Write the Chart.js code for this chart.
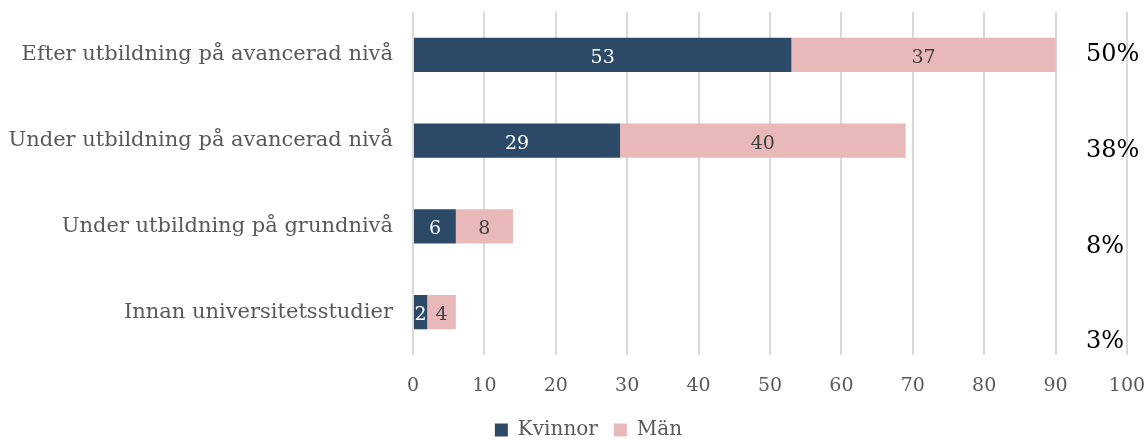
<!DOCTYPE html>
<html>
<head>
<meta charset="utf-8">
<script src="https://cdn.jsdelivr.net/npm/chart.js@4"></script>
<style>
  html, body { margin: 0; padding: 0; background: #fff; }
  #wrap { width: 1148px; height: 440px; }
</style>
</head>
<body>
<div id="wrap"><canvas id="chart"></canvas></div>
<script>
const categories = [
  'Efter utbildning på avancerad nivå',
  'Under utbildning på avancerad nivå',
  'Under utbildning på grundnivå',
  'Innan universitetsstudier'
]
const kvinnor = [53, 29, 6, 2]
const man = [37, 40, 8, 4]
const shares = ['50%', '38%', '8%', '3%']

const FONT = "'DejaVu Serif', 'Liberation Serif', serif"
const GREY = '#595959'

// numbers inside the bars
const barLabels = {
  id: 'barLabels',
  afterDatasetsDraw(chart) {
    const ctx = chart.ctx
    ctx.save()
    ctx.font = '19px ' + FONT
    ctx.textAlign = 'center'
    ctx.textBaseline = 'middle'
    chart.data.datasets.forEach((ds, di) => {
      chart.getDatasetMeta(di).data.forEach((bar, i) => {
        const cx = (bar.x + bar.base) / 2
        ctx.fillStyle = di === 0 ? '#ffffff' : '#404040'
        ctx.fillText(ds.data[i], cx, bar.y + 3)
      })
    })
    ctx.restore()
  }
}

// percentage column on the right
const shareLabels = {
  id: 'shareLabels',
  afterDraw(chart) {
    const ctx = chart.ctx
    const y = chart.scales.y
    ctx.save()
    ctx.font = '24px ' + FONT
    ctx.fillStyle = '#000000'
    ctx.textAlign = 'left'
    ctx.textBaseline = 'middle'
    shares.forEach((s, i) => {
      ctx.fillText(s, 1086, y.getPixelForValue(i) + i * 10)
    })
    ctx.restore()
  }
}

// legend sits a bit right of the canvas centre in the original
const legendShift = {
  id: 'legendShift',
  afterLayout(chart) {
    chart.legend.left += 25
    chart.legend.right += 25
  }
}

new Chart(document.getElementById('chart'), {
  type: 'bar',
  data: {
    labels: categories,
    datasets: [
      { label: 'Kvinnor', data: kvinnor, backgroundColor: '#2C4A67' },
      { label: 'Män', data: man, backgroundColor: '#E8B9B8' }
    ]
  },
  options: {
    indexAxis: 'y',
    responsive: true,
    maintainAspectRatio: false,
    animation: false,
    layout: { padding: { top: 12, right: 21, left: 0, bottom: -10 } },
    datasets: { bar: { barPercentage: 0.4, categoryPercentage: 1 } },
    scales: {
      x: {
        stacked: true,
        min: 0,
        max: 100,
        ticks: { stepSize: 10, color: GREY, font: { family: FONT, size: 19 }, padding: 20 },
        grid: { color: '#D9D9D9', lineWidth: 2, drawTicks: false },
        border: { display: false },
        afterFit(scale) {
          scale.height = 49
          scale.paddingLeft = 0
          scale.paddingRight = 0
        }
      },
      y: {
        stacked: true,
        ticks: { color: GREY, font: { family: FONT, size: 21 }, padding: 20 },
        grid: { display: false, drawTicks: false },
        border: { display: false },
        afterFit(scale) {
          scale.width = 413
          scale.paddingTop = 0
          scale.paddingBottom = 0
        }
      }
    },
    plugins: {
      legend: {
        position: 'bottom',
        labels: {
          color: GREY,
          font: { family: FONT, size: 20 },
          boxWidth: 13,
          boxHeight: 13,
          padding: 16
        }
      },
      tooltip: { enabled: false }
    }
  },
  plugins: [barLabels, shareLabels, legendShift]
})
</script>
</body>
</html>
